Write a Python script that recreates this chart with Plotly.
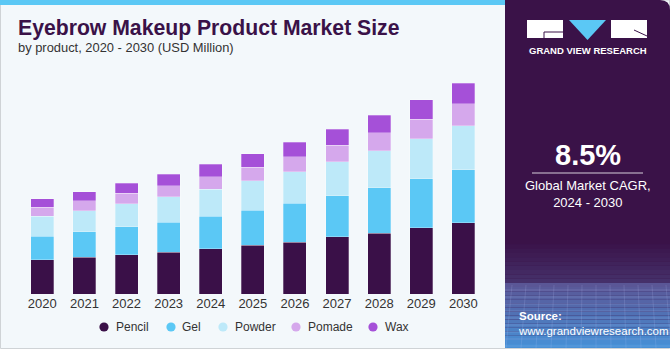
import plotly.graph_objects as go

W, H = 670, 350

years = ["2020", "2021", "2022", "2023", "2024", "2025", "2026", "2027", "2028", "2029", "2030"]
pencil = [87.0, 93.9, 99.8, 107.4, 115.9, 125.3, 133.0, 145.8, 156.0, 169.6, 182.4]
gel = [60.6, 64.7, 71.6, 76.7, 83.6, 89.5, 99.0, 104.9, 115.9, 124.6, 134.8]
powder = [51.2, 53.7, 58.8, 64.0, 68.3, 75.0, 80.8, 87.7, 94.6, 102.3, 113.3]
pomade = [23.0, 26.3, 27.4, 28.9, 31.5, 34.3, 38.4, 42.0, 46.0, 50.4, 55.5]
wax = [21.2, 23.0, 25.6, 29.2, 32.5, 34.0, 36.8, 40.9, 45.3, 49.4, 53.0]

series_names = ["Pencil", "Gel", "Powder", "Pomade", "Wax"]
series_values = [pencil, gel, powder, pomade, wax]
colors = ["#3a1048", "#5bc8f5", "#bde9f9", "#d5a8ec", "#a550d8"]

highlight_year = "2022"
highlight_label = "$283.2M"

title = "Eyebrow Makeup Product Market Size"
subtitle = "by product, 2020 - 2030 (USD Million)"
cagr = "8.5%"
cagr_text = "Global Market CAGR,<br>2024 - 2030"

# legend layout (pixel positions of marker centres, row y)
legend_marker_x = [104, 171, 223, 296, 373]
legend_y = 327


def px(x):
    return x / W


def py(y):
    return 1 - y / H


fig = go.Figure()

for name, vals, col in zip(series_names, series_values, colors):
    fig.add_trace(go.Bar(
        x=years, y=vals, name=name,
        marker=dict(color=col, line=dict(color="rgba(255,255,255,0.35)", width=0.8)),
        showlegend=False, hoverinfo="x+y+name",
    ))

total_h = sum(v[years.index(highlight_year)] for v in series_values)

shapes = []
# card background
shapes.append(dict(type="rect", xref="paper", yref="paper", x0=px(0.5), x1=px(669.5), y0=py(348.5), y1=py(0),
                   fillcolor="#f3f8fb", line=dict(color="#cfd3d6", width=1), layer="below"))
# top blue band
shapes.append(dict(type="rect", xref="paper", yref="paper", x0=0, x1=px(506), y0=py(5), y1=1,
                   fillcolor="#5bc8f5", line=dict(width=0), layer="below"))
# right panel
shapes.append(dict(type="path", xref="paper", yref="paper",
                   path=f"M {px(505)},{py(0)} L {px(660)},{py(0)} Q {px(670)},{py(0)} {px(670)},{py(10)} L {px(670)},{py(348)} L {px(505)},{py(348)} Z",
                   fillcolor="#3a1248", line=dict(width=0), layer="below"))


def lerp(c1, c2, t):
    a = [int(c1[i:i + 2], 16) for i in (1, 3, 5)]
    b = [int(c2[i:i + 2], 16) for i in (1, 3, 5)]
    return "#" + "".join(f"{round(a[k] + (b[k] - a[k]) * t):02x}" for k in range(3))


# gradient bottom of panel
n = 10
for i in range(n):
    y0 = 240 + (283 - 240) * i / n
    y1 = 240 + (283 - 240) * (i + 1) / n
    shapes.append(dict(type="rect", xref="paper", yref="paper", x0=px(505), x1=px(670), y0=py(y1), y1=py(y0),
                       fillcolor=lerp("#3a1248", "#45306a", i / (n - 1)), line=dict(width=0), layer="below"))
n = 16
for i in range(n):
    y0 = 283 + (348 - 283) * i / n
    y1 = 283 + (348 - 283) * (i + 1) / n
    shapes.append(dict(type="rect", xref="paper", yref="paper", x0=px(505), x1=px(670), y0=py(y1), y1=py(y0),
                       fillcolor=lerp("#5a5696", "#4790d6", i / (n - 1)), line=dict(width=0), layer="below"))
# faint grid lines in bottom area
for k in range(9):
    yy = 290 + k * 7
    shapes.append(dict(type="line", xref="paper", yref="paper", x0=px(505), x1=px(670), y0=py(yy), y1=py(yy),
                       line=dict(color="rgba(200,210,255,0.18)", width=1), layer="below"))
for k in range(12):
    xx = 512 + k * 14
    shapes.append(dict(type="line", xref="paper", yref="paper", x0=px(xx), x1=px(xx - 6 + k), y0=py(285), y1=py(348),
                       line=dict(color="rgba(200,210,255,0.15)", width=1), layer="below"))
# logo
shapes.append(dict(type="rect", xref="paper", yref="paper", x0=px(527), x1=px(563), y0=py(38), y1=py(20),
                   fillcolor="white", line=dict(width=0)))
shapes.append(dict(type="path", xref="paper", yref="paper",
                   path=f"M {px(569)},{py(20)} L {px(606)},{py(20)} L {px(587.5)},{py(40)} Z",
                   fillcolor="#5bc8f5", line=dict(width=0)))
shapes.append(dict(type="rect", xref="paper", yref="paper", x0=px(611), x1=px(647), y0=py(38), y1=py(20),
                   fillcolor="white", line=dict(width=0)))
shapes.append(dict(type="line", xref="paper", yref="paper", x0=px(544), x1=px(563), y0=py(32), y1=py(32),
                   line=dict(color="#3a1248", width=1)))
shapes.append(dict(type="line", xref="paper", yref="paper", x0=px(544), x1=px(544), y0=py(32), y1=py(38),
                   line=dict(color="#3a1248", width=1)))
shapes.append(dict(type="line", xref="paper", yref="paper", x0=px(634), x1=px(647), y0=py(30), y1=py(36),
                   line=dict(color="#3a1248", width=1)))
# divider under CAGR
shapes.append(dict(type="line", xref="paper", yref="paper", x0=px(532), x1=px(643), y0=py(173), y1=py(173),
                   line=dict(color="rgba(255,255,255,0.8)", width=1)))

annotations = [
    dict(text=f"<b>{title}</b>", xref="paper", yref="paper", x=px(16), y=py(28), xanchor="left", yanchor="middle",
         showarrow=False, font=dict(family="Liberation Sans, Arial", size=21.2, color="#3a1248")),
    dict(text=subtitle, xref="paper", yref="paper", x=px(16), y=py(48), xanchor="left", yanchor="middle",
         showarrow=False, font=dict(family="Liberation Sans, Arial", size=12.9, color="#333333")),
    dict(text="<b>GRAND VIEW RESEARCH</b>", xref="paper", yref="paper", x=px(587.5), y=py(51), xanchor="center",
         yanchor="middle", showarrow=False, font=dict(family="Liberation Sans, Arial", size=9.5, color="white")),
    dict(text=f"<b>{cagr}</b>", xref="paper", yref="paper", x=px(587.5), y=py(155), xanchor="center",
         yanchor="middle", showarrow=False, font=dict(family="Liberation Sans, Arial", size=29, color="white")),
    dict(text=cagr_text, xref="paper", yref="paper", x=px(587.5), y=py(194), xanchor="center",
         yanchor="middle", showarrow=False, align="center",
         font=dict(family="Liberation Sans, Arial", size=13, color="white")),
    dict(text="<b>Source:</b><br>www.grandviewresearch.com", xref="paper", yref="paper", x=px(516), y=py(323),
         xanchor="left", yanchor="middle", showarrow=False, align="left",
         font=dict(family="Liberation Sans, Arial", size=11.5, color="white")),
    dict(text=highlight_label, x=highlight_year, y=total_h, xref="x", yref="y", yshift=14, showarrow=False,
         xanchor="center", yanchor="middle", font=dict(family="Liberation Sans, Arial", size=14, color="#333333")),
]

# legend: circle markers + labels
r = 4.6
for name, col, mx in zip(series_names, colors, legend_marker_x):
    shapes.append(dict(type="circle", xref="paper", yref="paper", x0=px(mx - r), x1=px(mx + r),
                       y0=py(legend_y + r), y1=py(legend_y - r), fillcolor=col, line=dict(width=0)))
    annotations.append(dict(text=name, xref="paper", yref="paper", x=px(mx + 9.5), y=py(legend_y),
                            xanchor="left", yanchor="middle", showarrow=False,
                            font=dict(family="Liberation Sans, Arial", size=12, color="#333333")))

fig.update_layout(
    width=W, height=H, margin=dict(l=0, r=0, t=0, b=0),
    paper_bgcolor="white", plot_bgcolor="rgba(0,0,0,0)",
    barmode="stack", bargap=0.454,
    shapes=shapes, annotations=annotations,
    xaxis=dict(domain=[px(21.25), px(484.4)], type="category", categoryorder="array", categoryarray=years,
               range=[-0.5, 10.5], showgrid=False, zeroline=False, showline=False,
               ticks="", tickfont=dict(family="Liberation Sans, Arial", size=13, color="#333333"),
               fixedrange=True),
    yaxis=dict(domain=[py(294), py(59.4)], range=[0, 600], visible=False, fixedrange=True),
    showlegend=False,
)

fig.write_html("out.html")
